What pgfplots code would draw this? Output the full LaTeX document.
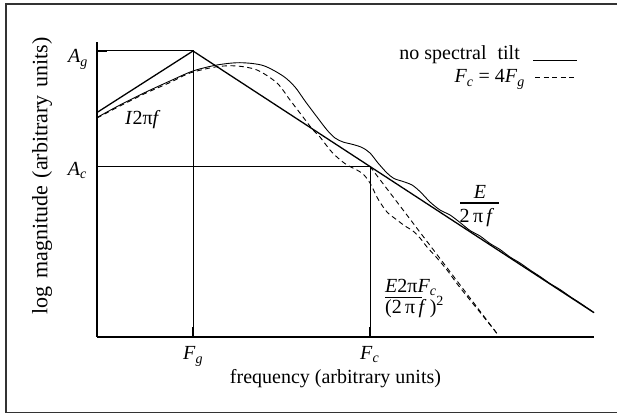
\documentclass[border=0pt]{standalone}
\usepackage{pgfplots}
\pgfplotsset{compat=1.18}
\usepackage{fontspec}
\setmainfont{Liberation Serif}

\begin{document}
\begin{tikzpicture}[x=1pt,y=1pt]
\useasboundingbox (0,0) rectangle (617,414);
% outer frame (cut off at the right edge)
\draw[line width=1.3pt, black!80] (640,410) -- (6,410) -- (6,1.7) -- (640,1.7);
\begin{axis}[
  at={(97pt,77pt)}, anchor=south west,
  scale only axis, width=497pt, height=295pt,
  xmin=0, xmax=497, ymin=0, ymax=295,
  axis x line=bottom, axis y line=left,
  axis line style={-, line width=1.2pt},
  xtick={96,273}, ytick={170.5,286},
  xticklabels={}, yticklabels={},
  tick align=inside, major tick length=10pt,
  tick style={line width=1.8pt, black},
  clip=false,
  font=\fontsize{20}{24}\selectfont,
]
% reference lines at Ag/Fg and Ac/Fc
\addplot[line width=1pt, black] coordinates {(0,286) (96,286) (96,0)};
\addplot[line width=1pt, black] coordinates {(0,170.5) (273,170.5) (273,0)};
% asymptotes
\addplot[line width=1.3pt] coordinates {(0,224.5) (96,286) (497,24.3)};
\addplot[line width=0.9pt, dash pattern=on 5pt off 3.5pt] coordinates {(273,170.5) (400,3.5)};
% spectrum, no spectral tilt
\addplot[line width=0.9pt, smooth] coordinates {
(0,219.5) (23,232) (48,244.5) (73,256) (96,266) (120,272) (143,274.3)
(166,271.5) (186,261) (198,250) (208,236) (220,220) (230,207) (238,199)
(246,195) (256,192.5) (265,189.5) (273,184) (281,174) (290,164)
(297,158.5) (306,155.5) (315,152) (323,145.5) (333,135) (343,127)
(353,122) (363,114.5) (373,106.5) (383,101) (393,93.5) (403,87.5)
(413,80) (423,74) (433,67) (443,60.5) (453,53.5) (463,47.5) (473,40.5)
(483,34) (497,24.5)
};
% spectrum, Fc = 4Fg
\addplot[line width=0.9pt, smooth, dash pattern=on 5pt off 3.5pt] coordinates {
(0,219) (23,231) (48,243.5) (73,254.5) (93,264) (120,270.3) (140,271)
(160,267) (180,254) (193,237) (206,220) (216,207) (223,200) (233,187)
(241,179) (250,172) (258,168) (266,163) (273,154) (281,138) (290,125)
(300,117) (308,111) (316,106) (323,99) (330,90) (340,79) (350,67)
(361,52) (373,37) (386,21) (400,3.5)
};
% tick labels
\node[anchor=base east, inner sep=0] at (-9,274) {\textit{A}\textsubscript{\textit{g}}};
\node[anchor=base east, inner sep=0] at (-10,161.3) {\textit{A}\textsubscript{\textit{c}}};
\node[anchor=base west, inner sep=0] at (86,-23) {\textit{F}\textsubscript{\textit{g}}};
\node[anchor=base west, inner sep=0] at (263,-22) {\textit{F}\textsubscript{\textit{c}}};
% axis labels
\node[anchor=base, inner sep=0] at (238.5,-46) {frequency (arbitrary units)};
\node[rotate=90, inner sep=0, font=\fontsize{22}{26}\selectfont] at (-55,161)
  {log\hspace{0.35em}magnitude\hspace{0.35em}(arbitrary\hspace{0.35em}units)};
% legend
\node[anchor=base east, inner sep=0] at (423,277) {no spectral\hspace{0.55em}tilt};
\draw[line width=0.9pt] (436,276.3) -- (480,276.3);
\node[anchor=base east, inner sep=0] at (428,254) {\textit{F}\textsubscript{\textit{c}} = 4\textit{F}\textsubscript{\textit{g}}};
\draw[line width=0.9pt, dash pattern=on 5pt off 3.5pt] (438,260) -- (480,260);
% annotations
\node[anchor=base west, inner sep=0] at (28,212) {\textit{I}2π\textit{f}};
\node[anchor=base, inner sep=0] at (383,138) {\textit{E}};
\draw[line width=1.1pt] (363,134) -- (402,134);
\node[anchor=base, inner sep=0] at (380,114.3) {2\,π\,\textit{f}};
\node[anchor=base west, inner sep=0] at (288,44.3) {\textit{E}2π\textit{F}\textsubscript{\textit{c}}};
\draw[line width=1.1pt] (288,39.7) -- (324.7,39.7);
\node[anchor=base west, inner sep=0] at (288,23.7) {(2\,π\,\textit{f}\,)\textsuperscript{2}};
\end{axis}
\end{tikzpicture}
\end{document}
